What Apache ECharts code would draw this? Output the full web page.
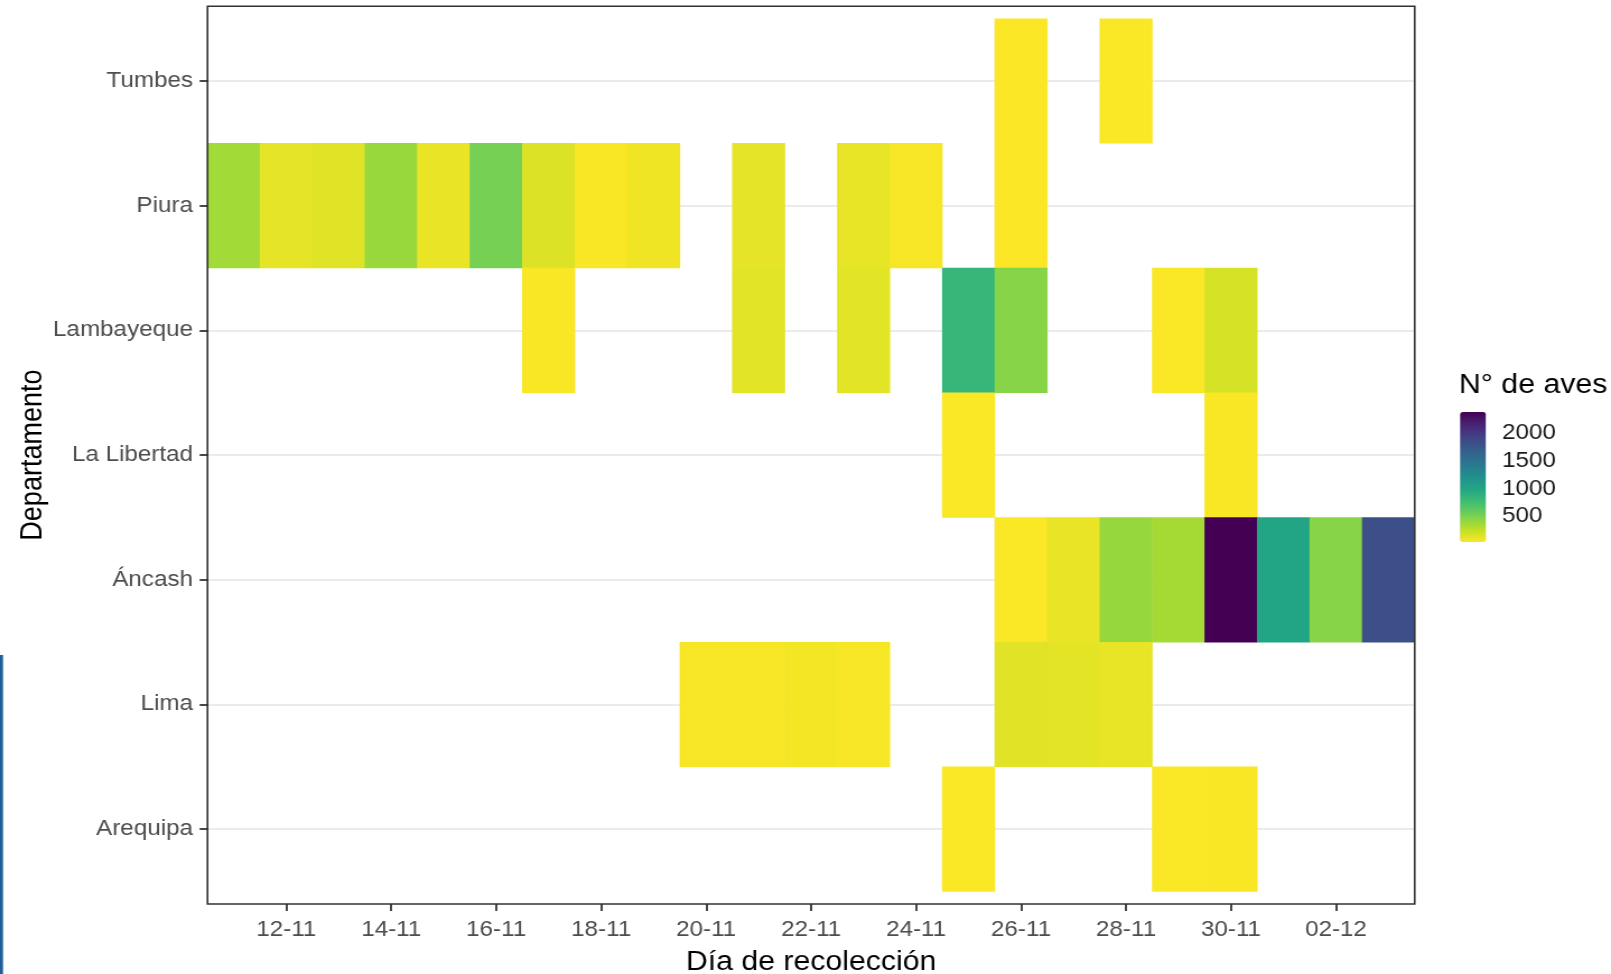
<!DOCTYPE html>
<html>
<head>
<meta charset="utf-8">
<script src="https://cdn.jsdelivr.net/npm/echarts@6/dist/echarts.min.js"></script>
<style>
html,body{margin:0;padding:0;background:#fff;overflow:hidden;width:1611px;height:974px;}
#c{width:1438px;height:974px;transform:scaleX(1.12031);transform-origin:0 0;}
</style>
</head>
<body>
<div id="c"></div>
<script>
// ---------- data ----------
const days = ['11-11','12-11','13-11','14-11','15-11','16-11','17-11','18-11','19-11','20-11',
              '21-11','22-11','23-11','24-11','25-11','26-11','27-11','28-11','29-11','30-11',
              '01-12','02-12','03-12'];
const departments = ['Tumbes','Piura','Lambayeque','La Libertad','Áncash','Lima','Arequipa'];
const _ = null;
const tumbes     = [_,_,_,_,_,_,_,_,_,_,_,_,_,_,_,8,_,12,_,_,_,_,_];
const piura      = [325,82,110,360,70,487,118,15,45,_,85,_,75,25,_,8,_,_,_,_,_,_,_];
const lambayeque = [_,_,_,_,_,_,15,_,_,_,95,_,95,_,800,420,_,_,10,140,_,_,_];
const laLibertad = [_,_,_,_,_,_,_,_,_,_,_,_,_,_,12,_,_,_,_,15,_,_,_];
const ancash     = [_,_,_,_,_,_,_,_,_,_,_,_,_,_,_,10,70,365,315,2350,965,420,1790];
const lima       = [_,_,_,_,_,_,_,_,_,25,20,35,25,_,_,105,90,75,_,_,_,_,_];
const arequipa   = [_,_,_,_,_,_,_,_,_,_,_,_,_,_,12,_,_,_,12,15,_,_,_];
const rows = [tumbes, piura, lambayeque, laLibertad, ancash, lima, arequipa];
const legendTicks = [500, 1000, 1500, 2000];
const xTitle = 'Día de recolección';
const yTitle = 'Departamento';
const legendTitle = 'N° de aves';

// ---------- build ----------
const heatData = [];
rows.forEach((r, yi) => r.forEach((v, xi) => { if (v !== null) heatData.push([xi, yi, v]); }));
let vmax = 0;
heatData.forEach(d => { if (d[2] > vmax) vmax = d[2]; });

const viridisRev = ['#FDE725','#BBDF27','#7AD151','#43BF71','#22A884','#21908C',
                    '#2A788E','#35608D','#414487','#482576','#440154'];

const S = 1.12031;               // horizontal stretch of the reference
const fx = v => v / S;           // full-picture x -> chart x
const FF = '"Liberation Sans", Arial, Helvetica, sans-serif';

const pLeft = fx(207.5), pRight = fx(1414.7), pTop = 6.2, pBottom = 904;
const unit = (pBottom - pTop) / 7.2;
const tTop = pTop + 0.1 * unit, tBottom = pBottom - 0.1 * unit;

const chart = echarts.init(document.getElementById('c'), null, {renderer: 'canvas'});
chart.setOption({
  animation: false,
  backgroundColor: '#ffffff',
  textStyle: {fontFamily: FF},
  grid: [
    {left: pLeft, top: tTop, width: pRight - pLeft, height: tBottom - tTop,
     containLabel: false, outerBoundsMode: 'none'},
    {left: fx(1460), top: 414, width: fx(1486) - fx(1460), height: 130,
     containLabel: false, outerBoundsMode: 'none'}
  ],
  xAxis: [
    {
      type: 'category', gridIndex: 0, data: days, offset: pBottom - tBottom,
      axisLine: {show: false},
      axisTick: {show: true, alignWithLabel: true, interval: (i) => i % 2 === 1, length: 7,
                 lineStyle: {color: '#333333', width: 1.8}},
      axisLabel: {interval: (i) => i % 2 === 1, margin: 15, fontSize: 21.6, color: '#4D4D4D', fontFamily: FF},
      splitLine: {show: false},
      name: xTitle, nameLocation: 'middle', nameGap: 45, nameMoveOverlap: false,
      nameTextStyle: {fontSize: 27, color: '#000000', fontFamily: FF}
    },
    {type: 'value', gridIndex: 1, show: false}
  ],
  yAxis: [
    {
      type: 'category', gridIndex: 0, data: departments, inverse: true,
      axisLine: {show: false},
      axisTick: {show: true, alignWithLabel: true, length: 7, lineStyle: {color: '#333333', width: 1.8}},
      axisLabel: {margin: 13, fontSize: 21.6, color: '#4D4D4D', fontFamily: FF, padding: [8, 0, 0, 0]},
      splitLine: {show: false},
      name: yTitle, nameLocation: 'middle', nameGap: 142, nameRotate: 90, nameMoveOverlap: false,
      nameTextStyle: {fontSize: 27, color: '#000000', fontFamily: FF}
    },
    {
      type: 'value', gridIndex: 1, min: 0, max: vmax, interval: 500, position: 'right',
      axisLine: {show: false}, axisTick: {show: false}, splitLine: {show: false},
      axisLabel: {margin: fx(1502) - fx(1486), fontSize: 21.6, color: '#1A1A1A', fontFamily: FF,
                  formatter: (v) => legendTicks.indexOf(v) >= 0 ? String(v) : ''}
    }
  ],
  visualMap: {
    type: 'continuous', seriesIndex: 0, min: 0, max: vmax, calculable: false,
    orient: 'vertical', left: fx(1460), top: 412, padding: 0,
    itemWidth: fx(1486) - fx(1460), itemHeight: 130,
    inRange: {color: viridisRev}, hoverLink: false
  },
  series: [
    {
      type: 'heatmap', xAxisIndex: 0, yAxisIndex: 0, data: heatData, z: 2,
      itemStyle: {borderWidth: 0}, emphasis: {disabled: true}, silent: true
    },
    {
      type: 'line', xAxisIndex: 0, yAxisIndex: 0, data: [], z: 1, silent: true,
      markLine: {
        silent: true, z: 1, symbol: ['none', 'none'], label: {show: false}, animation: false,
        lineStyle: {color: '#EBEBEB', width: 2, type: 'solid'},
        data: departments.map(d => ({yAxis: d}))
      }
    }
  ],
  graphic: [
    {type: 'rect', silent: true, z: 100,
     shape: {x: pLeft, y: pTop, width: pRight - pLeft, height: pBottom - pTop},
     style: {fill: null, stroke: '#333333', lineWidth: 1.6}},
    {type: 'text', silent: true, x: fx(1459), y: 386,
     style: {text: legendTitle, fontSize: 27, fontFamily: FF, fill: '#000000', align: 'left', verticalAlign: 'middle'}},
    {type: 'rect', silent: true, shape: {x: 0, y: 655, width: fx(3), height: 319}, style: {fill: '#1D5E9B'}}
  ]
});
</script>
</body>
</html>
